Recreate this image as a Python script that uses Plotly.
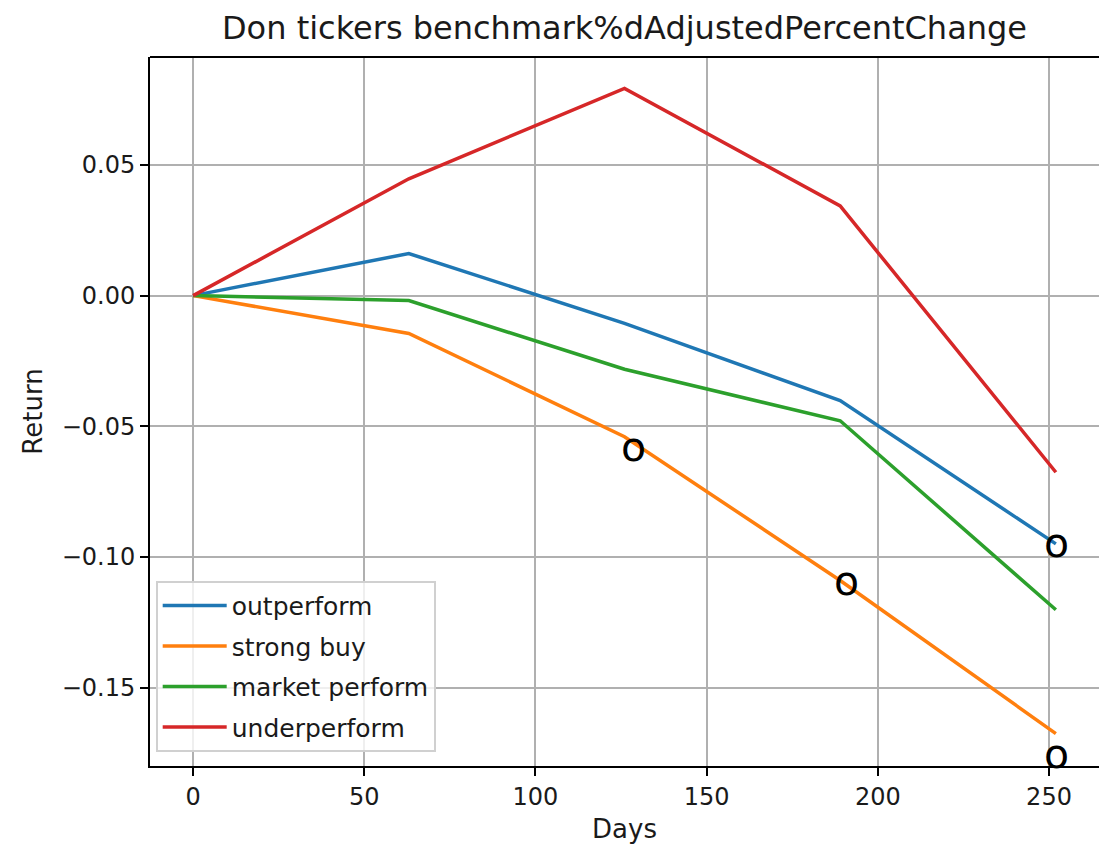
import plotly.graph_objects as go

days = [0, 63, 126, 189, 252]
outperform = [0.0, 0.0161, -0.0106, -0.0402, -0.0950]
strong_buy = [0.0, -0.0145, -0.0540, -0.1090, -0.1676]
market_perform = [0.0, -0.0019, -0.0282, -0.0479, -0.1202]
underperform = [0.0, 0.0447, 0.0793, 0.0343, -0.0676]

series_names = ["outperform", "strong buy", "market perform", "underperform"]
series_values = [outperform, strong_buy, market_perform, underperform]
series_colors = ["#1f77b4", "#ff7f0e", "#2ca02c", "#d62728"]

mark_x = [128.7, 190.8, 252.2, 252.2]
mark_y = [-0.0586, -0.1100, -0.0956, -0.1763]
mark_text = ["o", "o", "o", "o"]

x_ticks = [0, 50, 100, 150, 200, 250]
y_ticks = [-0.15, -0.10, -0.05, 0.00, 0.05]

FONT = "DejaVu Sans"

fig = go.Figure()
for i, (name, vals, col) in enumerate(zip(series_names, series_values, series_colors)):
    fig.add_trace(go.Scatter(
        x=days, y=vals, mode="lines", name=name,
        line=dict(color=col, width=3.5),
        legendgroup=f"g{i}",
    ))

for mx, my, mt in zip(mark_x, mark_y, mark_text):
    fig.add_annotation(x=mx, y=my, text=mt, showarrow=False,
                       font=dict(family=FONT, size=41, color="black"),
                       xanchor="center", yanchor="middle", yshift=2)

axis_common = dict(
    showgrid=True, gridcolor="#b0b0b0", gridwidth=2,
    zeroline=False, showline=True, linecolor="black", linewidth=2,
    ticks="outside", ticklen=8, tickwidth=2, tickcolor="black",
    tickfont=dict(family=FONT, size=24, color="#1a1a1a"),
)

fig.update_layout(
    width=1100, height=847,
    paper_bgcolor="white", plot_bgcolor="white",
    margin=dict(l=150, r=1, t=57, b=81),
    title=dict(text="Don tickers benchmark%dAdjustedPercentChange",
               font=dict(family=FONT, size=32, color="#1a1a1a"),
               x=(624.5 / 1100), xanchor="center", y=1 - 28 / 847, yanchor="middle"),
    xaxis=dict(range=[-12.6, 264.6], tickvals=x_ticks, mirror=False,
               title=dict(text="Days", font=dict(family=FONT, size=26, color="#1a1a1a"), standoff=10),
               **axis_common),
    yaxis=dict(range=[-0.1800, 0.0913], tickvals=y_ticks, tickformat=".2f",
               title=dict(text="Return", font=dict(family=FONT, size=26, color="#1a1a1a"), standoff=12),
               **axis_common),
    legend=dict(x=0.006, y=0.02, xanchor="left", yanchor="bottom",
                bgcolor="rgba(255,255,255,0.8)", bordercolor="#d0d0d0", borderwidth=2,
                font=dict(family=FONT, size=25, color="#1a1a1a"),
                tracegroupgap=5, traceorder="grouped", itemwidth=64),
    showlegend=True,
)
# top spine
fig.add_shape(type="line", xref="paper", yref="paper", x0=0, x1=1, y0=1, y1=1,
              line=dict(color="black", width=2))

fig.write_html("out.html", config={"displayModeBar": False},
               post_script="document.body.style.margin='0';document.body.style.overflow='hidden';")
